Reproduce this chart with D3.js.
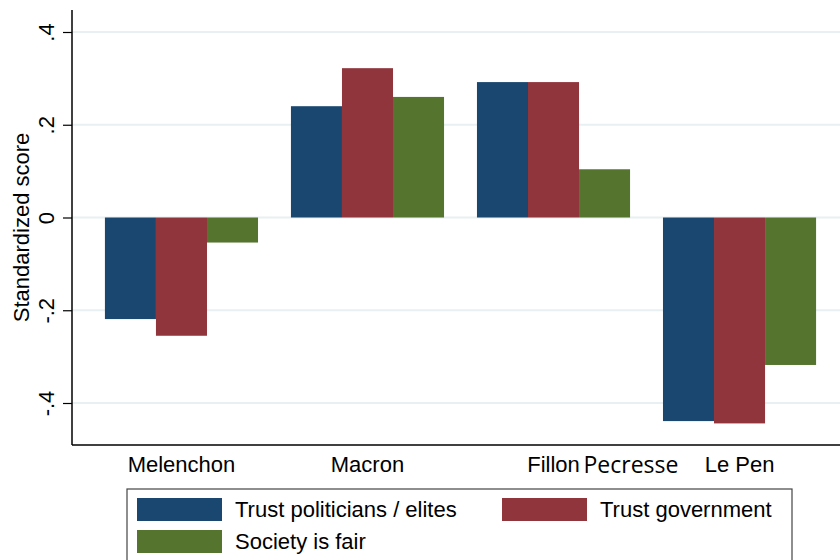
<!DOCTYPE html>
<html>
<head>
<meta charset="utf-8">
<script src="https://cdn.jsdelivr.net/npm/d3@7"></script>
<style>
  body { margin: 0; background: #fff; }
  svg { display: block; font-family: "Liberation Sans", Arial, Helvetica, sans-serif; }
</style>
</head>
<body>
<svg id="chart" width="840" height="560"></svg>
<script>
// data
const candidates = ["Melenchon", "Macron", "Fillon", "Le Pen"];
const seriesNames = ["Trust politicians / elites", "Trust government", "Society is fair"];
const trustElites = [-0.219, 0.240, 0.292, -0.439];
const trustGov = [-0.255, 0.322, 0.292, -0.444];
const societyFair = [-0.054, 0.260, 0.104, -0.318];
const yTicks = [-0.4, -0.2, 0, 0.2, 0.4];
const colors = ["#1a476f", "#90353b", "#55752f"];

const values = [trustElites, trustGov, societyFair];
const rows = candidates.map((c, i) => ({
  name: c,
  vals: seriesNames.map((s, j) => ({ key: s, value: values[j][i] }))
}));

const svg = d3.select("#chart");
const axisX = 72, plotTop = 10, plotBottom = 445;

const y = d3.scaleLinear().domain([-0.4, 0.4]).range([403, 32]);
const x0 = d3.scaleBand()
  .domain(candidates)
  .range([axisX, 849])
  .paddingInner(0.177)
  .paddingOuter(0.177);
const x1 = d3.scaleBand()
  .domain(seriesNames)
  .range([0, x0.bandwidth()]);
const color = d3.scaleOrdinal().domain(seriesNames).range(colors);

// gridlines
svg.append("g")
  .selectAll("line")
  .data(yTicks)
  .join("line")
  .attr("x1", axisX).attr("x2", 840)
  .attr("y1", d => y(d)).attr("y2", d => y(d))
  .attr("stroke", "#e8f0f2")
  .attr("stroke-width", 1.8);

// bars
const groups = svg.append("g")
  .selectAll("g")
  .data(rows)
  .join("g")
  .attr("transform", d => "translate(" + x0(d.name) + ",0)");
groups.selectAll("rect")
  .data(d => d.vals)
  .join("rect")
  .attr("x", d => x1(d.key))
  .attr("width", x1.bandwidth())
  .attr("y", d => Math.min(y(d.value), y(0)))
  .attr("height", d => Math.abs(y(d.value) - y(0)))
  .attr("fill", d => color(d.key));

// y axis (Stata style labels: ".2", "-.4")
const fmt = d => d === 0 ? "0" : d.toFixed(1).replace("0.", ".");
const yAxis = d3.axisLeft(y).tickValues(yTicks).tickSize(9).tickFormat(fmt);
const ya = svg.append("g")
  .attr("transform", "translate(" + axisX + ",0)")
  .call(yAxis);
ya.select(".domain").remove();
ya.selectAll(".tick line").attr("stroke", "#000").attr("stroke-width", 1.2);
ya.selectAll(".tick text")
  .attr("x", null).attr("dy", null)
  .attr("transform", "translate(-18,0) rotate(-90)")
  .attr("text-anchor", "middle")
  .attr("font-size", 22)
  .attr("font-family", "Liberation Sans, Arial, sans-serif")
  .attr("fill", "#000");
svg.append("line")
  .attr("x1", axisX).attr("x2", axisX)
  .attr("y1", plotTop).attr("y2", plotBottom)
  .attr("stroke", "#000").attr("stroke-width", 1.5);

// x axis line
svg.append("line")
  .attr("x1", axisX).attr("x2", 840)
  .attr("y1", plotBottom).attr("y2", plotBottom)
  .attr("stroke", "#000").attr("stroke-width", 1.5);

// category labels
svg.append("g")
  .selectAll("text")
  .data(candidates)
  .join("text")
  .attr("x", d => x0(d) + x0.bandwidth() / 2)
  .attr("y", 472)
  .attr("text-anchor", "middle")
  .attr("font-size", 22)
  .text(d => d);
svg.append("text")
  .attr("x", x0("Fillon") + x0.bandwidth() / 2 + 30)
  .attr("y", 473)
  .attr("font-family", "Open Sans, sans-serif")
  .attr("font-size", 23)
  .text("Pecresse");

// y title
svg.append("text")
  .attr("transform", "translate(29," + ((plotTop + plotBottom) / 2) + ") rotate(-90)")
  .attr("text-anchor", "middle")
  .attr("font-size", 22)
  .text("Standardized score");

// legend
svg.append("rect")
  .attr("x", 127).attr("y", 489)
  .attr("width", 665).attr("height", 90)
  .attr("fill", "#fff")
  .attr("stroke", "#444").attr("stroke-width", 1.2);
const legendPos = [[137, 498], [502, 498], [137, 530]];
const lg = svg.append("g")
  .selectAll("g")
  .data(seriesNames)
  .join("g")
  .attr("transform", (d, i) => "translate(" + legendPos[i][0] + "," + legendPos[i][1] + ")");
lg.append("rect")
  .attr("width", 85).attr("height", 23)
  .attr("fill", d => color(d));
lg.append("text")
  .attr("x", 98).attr("y", 19)
  .attr("font-size", 22)
  .text(d => d);
</script>
</body>
</html>
